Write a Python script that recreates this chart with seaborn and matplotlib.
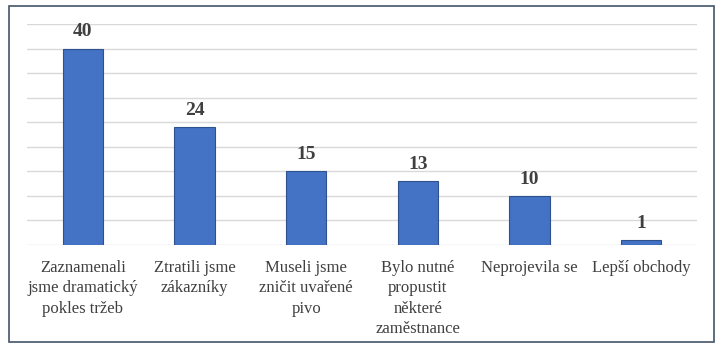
import matplotlib
matplotlib.use("Agg")
import matplotlib.pyplot as plt
import matplotlib.patches as patches
import pandas as pd
import seaborn as sns

categories = [
    "Zaznamenali\njsme dramatický\npokles tržeb",
    "Ztratili jsme\nzákazníky",
    "Museli jsme\nzničit uvařené\npivo",
    "Bylo nutné\npropustit\nněkteré\nzaměstnance",
    "Neprojevila se",
    "Lepší obchody",
]
values = [40, 24, 15, 13, 10, 1]

df = pd.DataFrame({"kat": categories, "pocet": values})

sns.set_style("white")
plt.rcParams["font.family"] = ["Liberation Serif", "DejaVu Serif"]

fig = plt.figure(figsize=(7.25, 3.51), dpi=100)
ax = fig.add_axes([27 / 725, 1 - 245 / 351, 670 / 725, 221 / 351])

sns.barplot(data=df, x="kat", y="pocet", color="#4472C4", width=0.36,
            edgecolor="#2F528F", linewidth=0.8, saturation=1, ax=ax, zorder=3)

ax.set_ylim(0, 45)
ax.set_yticks(range(0, 46, 5))
ax.yaxis.grid(True, color="#D9D9D9", linewidth=1, zorder=0)
ax.set_yticklabels([])
ax.tick_params(axis="y", length=0)
ax.tick_params(axis="x", length=0, pad=11, labelsize=12, labelcolor="#404040")
for lab in ax.get_xticklabels():
    lab.set_linespacing(1.35)
ax.set_xlabel("")
ax.set_ylabel("")
for s in ax.spines.values():
    s.set_visible(False)

for c in ax.containers:
    ax.bar_label(c, padding=6, fontsize=14, fontweight="bold", color="#404040")

fig.patches.append(patches.Rectangle((9 / 725, 1 - 342 / 351), 705 / 725, 336 / 351,
                                     transform=fig.transFigure, fill=False,
                                     edgecolor="#44546A", linewidth=1.2))

fig.savefig("out.png", dpi=100)
